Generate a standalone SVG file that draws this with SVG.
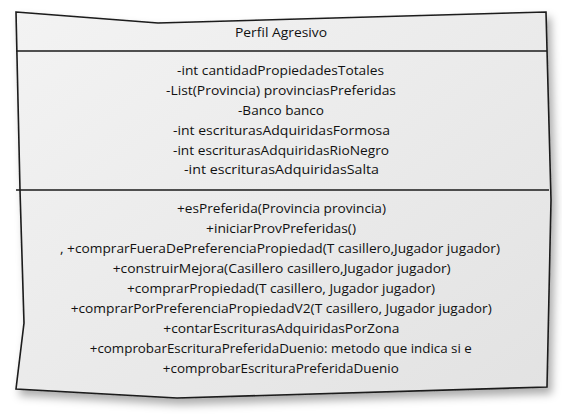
<svg xmlns="http://www.w3.org/2000/svg" width="562" height="418" viewBox="0 0 562 418">
<style>
.t{font-family:"Open Sans","Noto Sans","Liberation Sans",sans-serif;font-size:13px;fill:#111;text-anchor:middle}
.ln{stroke:#1a1a1a;stroke-width:1.5;fill:none}
</style>
<defs>
<linearGradient id="g" x1="0" y1="0" x2="1" y2="1">
<stop offset="0" stop-color="#f3f3f3"/>
<stop offset="1" stop-color="#e2e2e2"/>
</linearGradient>
<filter id="sh" x="-10%" y="-10%" width="130%" height="130%">
<feDropShadow dx="4" dy="6" stdDeviation="4" flood-color="#000" flood-opacity="0.32"/>
</filter>
</defs>
<rect width="562" height="418" fill="#fff"/>
<g id="class-PerfilAgresivo">
<path d="M16,12 L158,23 L546,12 L551,200 L547,387 L177,398 L16,389 L24,323 L20,190 Z" fill="url(#g)" stroke="#1a1a1a" stroke-width="1.6" filter="url(#sh)"/>
<path class="ln" d="M16,51 L547,51"/>
<path class="ln" d="M16,190 L549,190"/>
<text class="t" x="281" y="37" textLength="92" lengthAdjust="spacingAndGlyphs">Perfil Agresivo</text>
<text class="t" x="280.5" y="75" textLength="207" lengthAdjust="spacingAndGlyphs">-int cantidadPropiedadesTotales</text>
<text class="t" x="281" y="94.5" textLength="230" lengthAdjust="spacingAndGlyphs">-List(Provincia) provinciasPreferidas</text>
<text class="t" x="281" y="114.5" textLength="86" lengthAdjust="spacingAndGlyphs">-Banco banco</text>
<text class="t" x="281.5" y="134.5" textLength="217" lengthAdjust="spacingAndGlyphs">-int escriturasAdquiridasFormosa</text>
<text class="t" x="281" y="154.5" textLength="216" lengthAdjust="spacingAndGlyphs">-int escriturasAdquiridasRioNegro</text>
<text class="t" x="281.5" y="174" textLength="195" lengthAdjust="spacingAndGlyphs">-int escriturasAdquiridasSalta</text>
<text class="t" x="281.5" y="212.5" textLength="209" lengthAdjust="spacingAndGlyphs">+esPreferida(Provincia provincia)</text>
<text class="t" x="281" y="232.5" textLength="150" lengthAdjust="spacingAndGlyphs">+iniciarProvPreferidas()</text>
<text class="t" x="280" y="252.5" textLength="440" lengthAdjust="spacingAndGlyphs">, +comprarFueraDePreferenciaPropiedad(T casillero,Jugador jugador)</text>
<text class="t" x="281.7" y="272.5" textLength="338" lengthAdjust="spacingAndGlyphs">+construirMejora(Casillero casillero,Jugador jugador)</text>
<text class="t" x="281" y="292.5" textLength="308" lengthAdjust="spacingAndGlyphs">+comprarPropiedad(T casillero, Jugador jugador)</text>
<text class="t" x="281.2" y="312.8" textLength="421" lengthAdjust="spacingAndGlyphs">+comprarPorPreferenciaPropiedadV2(T casillero, Jugador jugador)</text>
<text class="t" x="281.3" y="333" textLength="236" lengthAdjust="spacingAndGlyphs">+contarEscriturasAdquiridasPorZona</text>
<text class="t" x="280.8" y="353" textLength="382" lengthAdjust="spacingAndGlyphs">+comprobarEscrituraPreferidaDuenio: metodo que indica si e</text>
<text class="t" x="280.8" y="373" textLength="236" lengthAdjust="spacingAndGlyphs">+comprobarEscrituraPreferidaDuenio</text>
</g>
</svg>
